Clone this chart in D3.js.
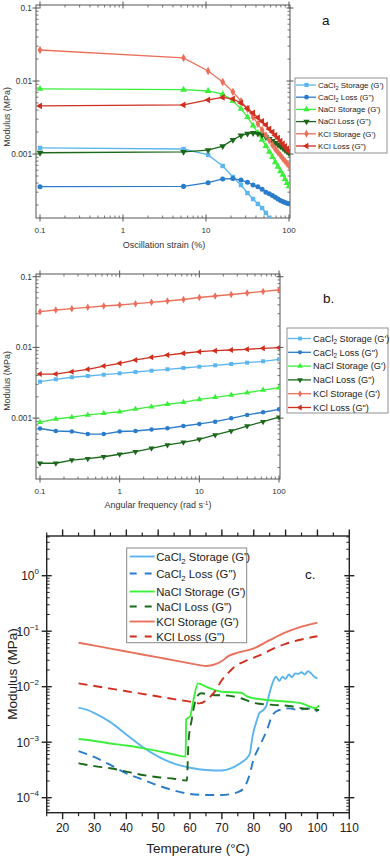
<!DOCTYPE html>
<html>
<head>
<meta charset="utf-8">
<script src="https://cdn.jsdelivr.net/npm/d3@7"></script>
<style>
body { margin: 0; background: #fff; }
svg { font-family: "Liberation Sans", Arial, sans-serif; display: block; }
</style>
</head>
<body>
<div id="chart"></div>
<script>
// ---- data ----
var labels = ["CaCl2 Storage (G')", "CaCl2 Loss (G\")", "NaCl Storage (G')", "NaCl Loss (G\")", "KCl Storage (G')", "KCl Loss (G\")"];
var colours = ['#5cb5ec', '#2b7cca', '#3bef3b', '#1b681b', '#e9705a', '#cf2f1f'];

// panel a: amplitude sweep
var strain = [0.1, 5.36, 10.6, 15.9, 21.1, 26.4, 31.6, 36.9, 42.2, 47.4, 52.7, 57.9, 63.2, 68.4, 73.7, 78.9, 84.2, 89.5, 94.7, 100];
var caStoreA = [1.21e-3, 1.17e-3, 9.7e-4, 6.85e-4, 4.84e-4, 3.76e-4, 2.92e-4, 2.42e-4, 2.07e-4, 1.82e-4, 1.56e-4, 1.33e-4, 1.17e-4, 1.03e-4, 9.1e-5, 8.3e-5, 7.3e-5, 6.6e-5, 6.0e-5, 5.5e-5];
var caLossA = [3.57e-4, 3.6e-4, 4.05e-4, 4.55e-4, 4.6e-4, 4.4e-4, 4.1e-4, 3.76e-4, 3.55e-4, 3.3e-4, 3.0e-4, 2.85e-4, 2.7e-4, 2.55e-4, 2.42e-4, 2.3e-4, 2.24e-4, 2.17e-4, 2.12e-4, 2.08e-4];
var naStoreA = [7.8e-3, 7.6e-3, 7.3e-3, 6.6e-3, 5.3e-3, 4.15e-3, 3.2e-3, 2.45e-3, 1.94e-3, 1.56e-3, 1.29e-3, 1.07e-3, 9.1e-4, 7.7e-4, 6.7e-4, 5.8e-4, 5.2e-4, 4.5e-4, 4.0e-4, 3.6e-4];
var naLossA = [1.04e-3, 1.07e-3, 1.13e-3, 1.28e-3, 1.56e-3, 1.79e-3, 1.9e-3, 1.94e-3, 1.9e-3, 1.82e-3, 1.7e-3, 1.61e-3, 1.51e-3, 1.42e-3, 1.34e-3, 1.27e-3, 1.21e-3, 1.13e-3, 1.08e-3, 1.03e-3];
var kStoreA = [2.66e-2, 2.07e-2, 1.37e-2, 9.7e-3, 7.1e-3, 5.3e-3, 4.15e-3, 3.2e-3, 2.58e-3, 2.13e-3, 1.8e-3, 1.54e-3, 1.33e-3, 1.17e-3, 1.05e-3, 9.6e-4, 8.7e-4, 8.0e-4, 7.4e-4, 6.9e-4];
var kLossA = [4.55e-3, 4.7e-3, 5.5e-3, 5.95e-3, 5.7e-3, 5.0e-3, 4.2e-3, 3.65e-3, 3.15e-3, 2.8e-3, 2.5e-3, 2.2e-3, 2.0e-3, 1.8e-3, 1.65e-3, 1.5e-3, 1.37e-3, 1.27e-3, 1.17e-3, 1.08e-3];

// panel b: frequency sweep
var freq = [0.1, 0.158, 0.251, 0.398, 0.631, 1, 1.58, 2.51, 3.98, 6.31, 10, 15.8, 25.1, 39.8, 63.1, 100];
var caStoreB = [3.27e-3, 3.54e-3, 3.78e-3, 3.94e-3, 4.11e-3, 4.3e-3, 4.49e-3, 4.68e-3, 4.9e-3, 5.11e-3, 5.33e-3, 5.58e-3, 5.82e-3, 6.08e-3, 6.36e-3, 6.79e-3];
var caLossB = [7.13e-4, 6.57e-4, 6.46e-4, 5.95e-4, 5.95e-4, 6.46e-4, 6.57e-4, 6.9e-4, 7.18e-4, 7.73e-4, 8.26e-4, 8.9e-4, 9.93e-4, 1.11e-3, 1.21e-3, 1.33e-3];
var naStoreB = [8.73e-4, 9.71e-4, 1.03e-3, 1.11e-3, 1.17e-3, 1.23e-3, 1.34e-3, 1.45e-3, 1.57e-3, 1.67e-3, 1.84e-3, 1.97e-3, 2.12e-3, 2.29e-3, 2.49e-3, 2.69e-3];
var naLossB = [2.3e-4, 2.3e-4, 2.55e-4, 2.67e-4, 2.84e-4, 3.08e-4, 3.35e-4, 3.74e-4, 4.17e-4, 4.55e-4, 5.01e-4, 5.77e-4, 6.58e-4, 7.73e-4, 8.9e-4, 1.03e-3];
var kStoreB = [0.032, 0.0338, 0.0353, 0.0369, 0.0385, 0.0398, 0.0415, 0.0434, 0.0453, 0.0476, 0.0508, 0.0533, 0.056, 0.0588, 0.0618, 0.0648];
var kLossB = [4.2e-3, 4.2e-3, 4.53e-3, 4.9e-3, 5.45e-3, 5.96e-3, 6.64e-3, 7.24e-3, 7.8e-3, 8.26e-3, 8.7e-3, 8.98e-3, 9.19e-3, 9.4e-3, 9.7e-3, 9.9e-3];

// panel c: temperature ramp, [T (°C), modulus (MPa)]
var caStoreC = [[25,4.2e-3],[27.5,3.85e-3],[30,3.35e-3],[35,2.3e-3],[40,1.38e-3],[45,8.3e-4],[50,5.5e-4],[55,4.1e-4],[60,3.47e-4],[65,3.16e-4],[70,3.09e-4],[73,3.4e-4],[76,4.27e-4],[78,5.3e-4],[78.8,6.3e-4],[79.6,1.26e-3],[81,2.5e-3],[81.7,3.3e-3],[83,3.8e-3],[84,4.6e-3],[85,7.9e-3],[86,1.2e-2],[87,1.51e-2],[88,1.26e-2],[89,1.51e-2],[90,1.38e-2],[91,1.66e-2],[92,1.48e-2],[93,1.74e-2],[94,1.7e-2],[95,1.82e-2],[96,1.66e-2],[97,1.9e-2],[98,1.74e-2],[99,1.51e-2],[100,1.41e-2]];
var caLossC = [[25,6.9e-4],[30,5.37e-4],[35,3.89e-4],[40,2.75e-4],[45,2.14e-4],[50,1.66e-4],[55,1.35e-4],[60,1.17e-4],[65,1.12e-4],[70,1.12e-4],[75,1.26e-4],[77,1.51e-4],[78.5,2.4e-4],[80,5.0e-4],[82,8.9e-4],[84,1.58e-3],[86,3.16e-3],[88,3.8e-3],[91,4.07e-3],[94,3.8e-3],[97,4.07e-3],[100,3.55e-3]];
var naStoreC = [[25,1.14e-3],[30,1.05e-3],[35,9.5e-4],[40,8.7e-4],[45,7.8e-4],[50,6.9e-4],[55,6.0e-4],[58.6,5.5e-4],[58.8,2.6e-3],[60,2.9e-3],[61,5.5e-3],[62.5,1.15e-2],[65,1.0e-2],[70,8.1e-3],[76,7.8e-3],[78,6.6e-3],[80,6.2e-3],[85,5.7e-3],[90,5.4e-3],[95,5.0e-3],[99.5,4.1e-3],[100.5,4.6e-3]];
var naLossC = [[25,4.17e-4],[30,3.7e-4],[35,3.4e-4],[40,2.95e-4],[45,2.57e-4],[50,2.34e-4],[55,2.19e-4],[59,2.04e-4],[59.5,1.0e-3],[60.5,2.5e-3],[62,6.3e-3],[63.5,7.6e-3],[67,7.1e-3],[72,6.9e-3],[76,6.2e-3],[80,5.1e-3],[86,4.7e-3],[91,4.5e-3],[95,4.1e-3],[100.5,3.8e-3]];
var kStoreC = [[25,0.062],[30,0.055],[35,0.0486],[40,0.043],[45,0.0381],[50,0.0337],[55,0.0298],[60,0.0263],[63,0.0245],[65,0.0236],[68,0.0255],[70,0.029],[72,0.0355],[75,0.041],[80,0.049],[85,0.069],[90,0.095],[95,0.121],[100,0.143]];
var kLossC = [[25,0.0115],[30,0.0103],[35,9.25e-3],[40,8.3e-3],[45,7.44e-3],[50,6.67e-3],[55,5.98e-3],[60,5.37e-3],[63,5.0e-3],[66,6.3e-3],[68,8.5e-3],[70,0.0132],[72,0.0178],[74,0.0229],[78,0.030],[82,0.037],[86,0.048],[90,0.059],[95,0.071],[100,0.081]];

var xTicksAB = [0.1, 1, 10, 100];
var xTickLabelsAB = ["0.1", "1", "10", "100"];
var yTicksAB = [0.1, 0.01, 0.001];
var yTickLabelsAB = ["0.1", "0.01", "0.001"];
var xTicksC = [20, 30, 40, 50, 60, 70, 80, 90, 100, 110];
var yTicksC = [1, 0.1, 0.01, 0.001, 0.0001];
var yExpC = ["0", "\u22121", "\u22122", "\u22123", "\u22124"];

// ---- drawing ----
var svg = d3.select("#chart")
    .append("svg")
    .attr("width", 390)
    .attr("height", 858);

var symbolTypes = [d3.symbolSquare, d3.symbolCircle, d3.symbolTriangle, d3.symbolTriangle, d3.symbolDiamond, d3.symbolTriangle];
var symbolRotate = [0, 0, 0, 180, 0, -90];

function addLabel(sel, text, fs){
    var m = text.match(/^CaCl2(.*)$/);
    if (m) {
        sel.append("tspan").text("CaCl");
        sel.append("tspan").attr("font-size", fs * 0.7).attr("dy", fs * 0.3).text("2");
        sel.append("tspan").attr("dy", -fs * 0.3).text(m[1]);
    } else {
        sel.text(text);
    }
}

// every k*10^n inside [lo, hi]
function logTicks(lo, hi){
    var out = [];
    for (var n = -6; n <= 2; n++) {
        for (var k = 1; k <= 9; k++) {
            var v = k * Math.pow(10, n);
            if (v >= lo * 0.999 && v <= hi * 1.001) out.push(v);
        }
    }
    return out;
}

function frameAndClip(id, f){
    svg.append("clipPath").attr("id", id)
        .append("rect")
        .attr("x", f.left).attr("y", f.top)
        .attr("width", f.right - f.left).attr("height", f.bottom - f.top);
}

function logPanel(o){
    var f = o.frame;
    var x = d3.scaleLog().domain([0.1, 100]).range(o.xr);
    var y = d3.scaleLog().domain([1e-4, 0.1]).range(o.yr);
    frameAndClip(o.id, f);
    var g = svg.append("g");
    var axisCol = "#555";

    g.append("rect")
        .attr("x", f.left).attr("y", f.top)
        .attr("width", f.right - f.left).attr("height", f.bottom - f.top)
        .attr("fill", "none").attr("stroke", axisCol).attr("stroke-width", 1);

    // x ticks (bottom and top)
    var xMinor = logTicks(0.1, 100).filter(function(v){ return xTicksAB.indexOf(v) < 0 && Math.abs(Math.log10(v) - Math.round(Math.log10(v))) > 1e-6; });
    [f.bottom, f.top].forEach(function(yy, j){
        var dir = j === 0 ? -1 : 1;
        g.selectAll(null).data(xMinor).enter().append("line")
            .attr("x1", function(d){ return x(d); }).attr("x2", function(d){ return x(d); })
            .attr("y1", yy).attr("y2", yy + dir * 2.5)
            .attr("stroke", axisCol).attr("stroke-width", 0.8);
        g.selectAll(null).data(xTicksAB).enter().append("line")
            .attr("x1", function(d){ return x(d); }).attr("x2", function(d){ return x(d); })
            .attr("y1", yy - 3.5).attr("y2", yy + 3.5)
            .attr("stroke", axisCol).attr("stroke-width", 1);
    });
    g.selectAll(null).data(xTicksAB).enter().append("text")
        .attr("x", function(d){ return x(d); })
        .attr("y", f.bottom + 15)
        .attr("text-anchor", "middle")
        .attr("font-size", 8).attr("fill", "#333")
        .text(function(d, i){ return xTickLabelsAB[i]; });

    // y ticks (left and right)
    var lo = y.invert(f.bottom), hi = y.invert(f.top);
    var yMinor = logTicks(lo, hi).filter(function(v){ return Math.abs(Math.log10(v) - Math.round(Math.log10(v))) > 1e-6; });
    var yMajor = logTicks(lo, hi).filter(function(v){ return Math.abs(Math.log10(v) - Math.round(Math.log10(v))) <= 1e-6; });
    [f.left, f.right].forEach(function(xx, j){
        var dir = j === 0 ? 1 : -1;
        g.selectAll(null).data(yMinor).enter().append("line")
            .attr("y1", function(d){ return y(d); }).attr("y2", function(d){ return y(d); })
            .attr("x1", xx).attr("x2", xx + dir * 2.5)
            .attr("stroke", axisCol).attr("stroke-width", 0.8);
        g.selectAll(null).data(yMajor).enter().append("line")
            .attr("y1", function(d){ return y(d); }).attr("y2", function(d){ return y(d); })
            .attr("x1", xx - 3.5).attr("x2", xx + 3.5)
            .attr("stroke", axisCol).attr("stroke-width", 1);
    });
    g.selectAll(null).data(yTicksAB).enter().append("text")
        .attr("x", f.left - 4)
        .attr("y", function(d){ return y(d) + 3; })
        .attr("text-anchor", "end")
        .attr("font-size", 8.3).attr("fill", "#333")
        .text(function(d, i){ return yTickLabelsAB[i]; });

    // titles
    g.append("text")
        .attr("transform", "translate(" + o.yTitle[0] + "," + o.yTitle[1] + ") rotate(-90)")
        .attr("text-anchor", "middle").attr("font-size", 8.8).attr("fill", "#333")
        .text("Modulus (MPa)");
    var xt = g.append("text")
        .attr("x", o.xTitle[0]).attr("y", o.xTitle[1])
        .attr("text-anchor", "middle").attr("font-size", 9).attr("fill", "#333");
    if (o.id === "clipB") {
        xt.append("tspan").text("Angular frequency (rad s");
        xt.append("tspan").attr("font-size", 6).attr("dy", -3.5).text("-1");
        xt.append("tspan").attr("dy", 3.5).text(")");
    } else {
        xt.text("Oscillation strain (%)");
    }
    g.append("text")
        .attr("x", o.tag[0]).attr("y", o.tag[1])
        .attr("font-size", 13.5).attr("fill", "#111")
        .text(o.tag[2]);

    // series
    var line = d3.line()
        .x(function(d){ return x(d[0]); })
        .y(function(d){ return y(d[1]); });
    var plot = g.append("g").attr("clip-path", "url(#" + o.id + ")");
    o.series.forEach(function(vals, i){
        var pts = o.xs.map(function(v, k){ return [v, vals[k]]; });
        plot.append("path")
            .datum(pts)
            .attr("d", line)
            .attr("fill", "none")
            .attr("stroke", colours[i])
            .attr("stroke-width", 1.3);
        plot.selectAll(null).data(pts).enter().append("path")
            .attr("d", d3.symbol().type(symbolTypes[i]).size(o.msize))
            .attr("transform", function(d){ return "translate(" + x(d[0]) + "," + y(d[1]) + ") rotate(" + symbolRotate[i] + ")"; })
            .attr("fill", colours[i]);
    });

    // legend
    var L = o.legend;
    g.append("rect")
        .attr("x", L.x).attr("y", L.y).attr("width", L.w).attr("height", L.h)
        .attr("fill", "#fff").attr("stroke", "#777").attr("stroke-width", 0.8);
    labels.forEach(function(lab, i){
        var ry = L.row0 + i * L.step;
        g.append("line")
            .attr("x1", L.x + 1).attr("x2", L.x + L.sample)
            .attr("y1", ry).attr("y2", ry)
            .attr("stroke", colours[i]).attr("stroke-width", 1.3);
        g.append("path")
            .attr("d", d3.symbol().type(symbolTypes[i]).size(o.msize * 0.9))
            .attr("transform", "translate(" + (L.x + L.sample / 2 + 1) + "," + ry + ") rotate(" + symbolRotate[i] + ")")
            .attr("fill", colours[i]);
        var t = g.append("text")
            .attr("x", L.x + L.sample + 2).attr("y", ry + L.fs * 0.35)
            .attr("font-size", L.fs).attr("fill", "#222");
        addLabel(t, lab, L.fs);
    });
}

logPanel({
    id: "clipA",
    frame: { left: 36, right: 290, top: 5, bottom: 218 },
    xr: [40, 289], yr: [227, 8],
    xs: strain,
    series: [caStoreA, caLossA, naStoreA, naLossA, kStoreA, kLossA],
    msize: 20,
    yTitle: [9.5, 117], xTitle: [164, 248],
    tag: [322, 25, "a"],
    legend: { x: 295, y: 78, w: 92, h: 75, row0: 85, step: 12.2, sample: 21, fs: 7.9 }
});

logPanel({
    id: "clipB",
    frame: { left: 36, right: 280, top: 274, bottom: 479 },
    xr: [40, 279], yr: [488.8, 276.7],
    xs: freq,
    series: [caStoreB, caLossB, naStoreB, naLossB, kStoreB, kLossB],
    msize: 16,
    yTitle: [9.5, 381], xTitle: [158, 508],
    tag: [323, 303, "b."],
    legend: { x: 287, y: 328, w: 101, h: 85, row0: 338.5, step: 13.8, sample: 24, fs: 9.2 }
});

// ---- panel c ----
(function(){
    var f = { left: 46.7, right: 349.3, top: 536, bottom: 812.7 };
    var x = d3.scaleLinear().domain([15, 110]).range([f.left, f.right]);
    var y = d3.scaleLog().domain([1e-4, 1]).range([797.7, 575.7]);
    frameAndClip("clipC", f);
    var g = svg.append("g");
    var axisCol = "#222";

    g.append("rect")
        .attr("x", f.left).attr("y", f.top)
        .attr("width", f.right - f.left).attr("height", f.bottom - f.top)
        .attr("fill", "none").attr("stroke", axisCol).attr("stroke-width", 1.4);

    var xMinor = d3.range(15, 111, 5).filter(function(v){ return v % 10 !== 0; });
    [f.bottom, f.top].forEach(function(yy, j){
        var dir = j === 0 ? 1 : -1;
        g.selectAll(null).data(xMinor).enter().append("line")
            .attr("x1", function(d){ return x(d); }).attr("x2", function(d){ return x(d); })
            .attr("y1", yy).attr("y2", yy + dir * 3.5)
            .attr("stroke", axisCol).attr("stroke-width", 1.2);
        g.selectAll(null).data(xTicksC).enter().append("line")
            .attr("x1", function(d){ return x(d); }).attr("x2", function(d){ return x(d); })
            .attr("y1", yy).attr("y2", yy + dir * 6.5)
            .attr("stroke", axisCol).attr("stroke-width", 1.4);
    });
    g.selectAll(null).data(xTicksC).enter().append("text")
        .attr("x", function(d){ return x(d); })
        .attr("y", 832)
        .attr("text-anchor", "middle")
        .attr("font-size", 12).attr("fill", "#222")
        .text(function(d){ return d; });

    var lo = y.invert(f.bottom), hi = y.invert(f.top);
    var yMinor = logTicks(lo, hi).filter(function(v){ return Math.abs(Math.log10(v) - Math.round(Math.log10(v))) > 1e-6; });
    [f.left, f.right].forEach(function(xx, j){
        var dir = j === 0 ? 1 : -1;
        g.selectAll(null).data(yMinor).enter().append("line")
            .attr("y1", function(d){ return y(d); }).attr("y2", function(d){ return y(d); })
            .attr("x1", xx).attr("x2", xx + dir * 3)
            .attr("stroke", axisCol).attr("stroke-width", 1);
        g.selectAll(null).data(yTicksC).enter().append("line")
            .attr("y1", function(d){ return y(d); }).attr("y2", function(d){ return y(d); })
            .attr("x1", xx - 5).attr("x2", xx + 5)
            .attr("stroke", axisCol).attr("stroke-width", 1.4);
    });
    yTicksC.forEach(function(v, i){
        var t = g.append("text")
            .attr("x", 39).attr("y", y(v) + 4.5)
            .attr("text-anchor", "end")
            .attr("font-size", 12).attr("fill", "#222");
        t.append("tspan").text("10");
        t.append("tspan").attr("font-size", 8).attr("dy", -6).text(yExpC[i]);
    });

    g.append("text")
        .attr("transform", "translate(17,674) rotate(-90)")
        .attr("text-anchor", "middle").attr("font-size", 13.5).attr("fill", "#222")
        .text("Modulus (MPa)");
    g.append("text")
        .attr("x", 198).attr("y", 853)
        .attr("text-anchor", "middle").attr("font-size", 13.5).attr("fill", "#222")
        .text("Temperature (\u00b0C)");
    g.append("text")
        .attr("x", 305).attr("y", 579)
        .attr("font-size", 13.5).attr("fill", "#111")
        .text("c.");

    var line = d3.line()
        .curve(d3.curveMonotoneX)
        .x(function(d){ return x(d[0]); })
        .y(function(d){ return y(d[1]); });
    var plot = g.append("g").attr("clip-path", "url(#clipC)");
    [caStoreC, caLossC, naStoreC, naLossC, kStoreC, kLossC].forEach(function(pts, i){
        plot.append("path")
            .datum(pts)
            .attr("d", line)
            .attr("fill", "none")
            .attr("stroke", colours[i])
            .attr("stroke-width", 1.9)
            .attr("stroke-dasharray", i % 2 === 1 ? "9,6" : null);
    });

    // legend
    var L = { x: 126.7, y: 548, w: 120, h: 94.7, sample: 28, fs: 11.3 };
    var rows = [556.5, 573.5, 591.5, 606.5, 621.5, 636.5];
    g.append("rect")
        .attr("x", L.x).attr("y", L.y).attr("width", L.w).attr("height", L.h)
        .attr("fill", "#fff").attr("stroke", "#888").attr("stroke-width", 1);
    labels.forEach(function(lab, i){
        g.append("line")
            .attr("x1", L.x + 3).attr("x2", L.x + L.sample)
            .attr("y1", rows[i]).attr("y2", rows[i])
            .attr("stroke", colours[i]).attr("stroke-width", 1.9)
            .attr("stroke-dasharray", i % 2 === 1 ? "7,8" : null);
        var t = g.append("text")
            .attr("x", L.x + L.sample + 1.5).attr("y", rows[i] + L.fs * 0.36)
            .attr("font-size", L.fs).attr("fill", "#222");
        addLabel(t, lab, L.fs);
    });
})();
</script>
</body>
</html>
